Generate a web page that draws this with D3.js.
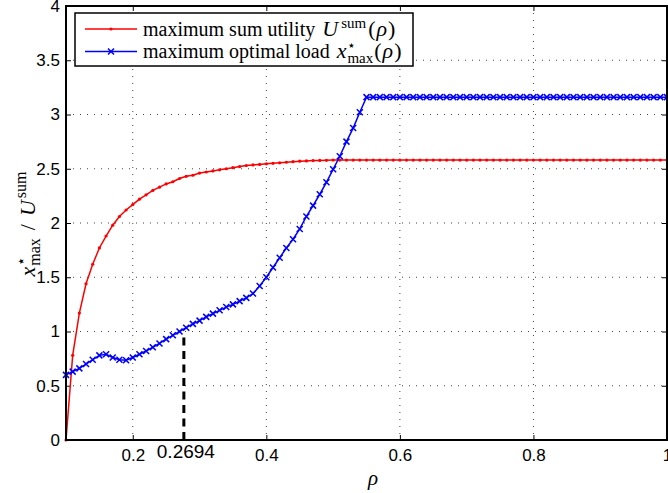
<!DOCTYPE html>
<html>
<head>
<meta charset="utf-8">
<script src="https://cdn.jsdelivr.net/npm/d3@7"></script>
<style>
  body { margin: 0; background: #fff; }
  svg { display: block; }
</style>
</head>
<body>
<svg></svg>
<script>
let rho = [
    0.10, 0.11, 0.12, 0.13, 0.14, 0.15, 0.16, 0.17, 0.18, 0.19,
    0.20, 0.21, 0.22, 0.23, 0.24, 0.25, 0.26, 0.27, 0.28, 0.29,
    0.30, 0.31, 0.32, 0.33, 0.34, 0.35, 0.36, 0.37, 0.38, 0.39,
    0.40, 0.41, 0.42, 0.43, 0.44, 0.45, 0.46, 0.47, 0.48, 0.49,
    0.50, 0.51, 0.52, 0.53, 0.54, 0.55, 0.56, 0.57, 0.58, 0.59,
    0.60, 0.61, 0.62, 0.63, 0.64, 0.65, 0.66, 0.67, 0.68, 0.69,
    0.70, 0.71, 0.72, 0.73, 0.74, 0.75, 0.76, 0.77, 0.78, 0.79,
    0.80, 0.81, 0.82, 0.83, 0.84, 0.85, 0.86, 0.87, 0.88, 0.89,
    0.90, 0.91, 0.92, 0.93, 0.94, 0.95, 0.96, 0.97, 0.98, 0.99,
    1.00
]

// maximum sum utility U^sum(rho)
let uSum = [
    0.00, 0.78, 1.17, 1.44, 1.62, 1.77, 1.88, 1.98, 2.06, 2.12,
    2.17, 2.22, 2.26, 2.30, 2.33, 2.36, 2.38, 2.41, 2.43, 2.44,
    2.46, 2.47, 2.48, 2.49, 2.50, 2.51, 2.52, 2.53, 2.535, 2.54,
    2.545, 2.55, 2.555, 2.56, 2.565, 2.57, 2.572, 2.575, 2.577, 2.578,
    2.58, 2.58, 2.58, 2.58, 2.58, 2.58, 2.58, 2.58, 2.58, 2.58,
    2.58, 2.58, 2.58, 2.58, 2.58, 2.58, 2.58, 2.58, 2.58, 2.58,
    2.58, 2.58, 2.58, 2.58, 2.58, 2.58, 2.58, 2.58, 2.58, 2.58,
    2.58, 2.58, 2.58, 2.58, 2.58, 2.58, 2.58, 2.58, 2.58, 2.58,
    2.58, 2.58, 2.58, 2.58, 2.58, 2.58, 2.58, 2.58, 2.58, 2.58,
    2.58
]

// maximum optimal load x*_max(rho)
let xMax = [
    0.60, 0.63, 0.66, 0.70, 0.74, 0.78, 0.79, 0.76, 0.74, 0.735,
    0.76, 0.79, 0.82, 0.855, 0.89, 0.93, 0.965, 1.00, 1.035, 1.07,
    1.10, 1.135, 1.165, 1.195, 1.225, 1.25, 1.28, 1.31, 1.35, 1.42,
    1.50, 1.59, 1.68, 1.77, 1.85, 1.945, 2.06, 2.16, 2.265, 2.375,
    2.495, 2.615, 2.75, 2.875, 3.02, 3.16, 3.16, 3.16, 3.16, 3.16,
    3.16, 3.16, 3.16, 3.16, 3.16, 3.16, 3.16, 3.16, 3.16, 3.16,
    3.16, 3.16, 3.16, 3.16, 3.16, 3.16, 3.16, 3.16, 3.16, 3.16,
    3.16, 3.16, 3.16, 3.16, 3.16, 3.16, 3.16, 3.16, 3.16, 3.16,
    3.16, 3.16, 3.16, 3.16, 3.16, 3.16, 3.16, 3.16, 3.16, 3.16,
    3.16
]

let xTicks = [0.2, 0.4, 0.6, 0.8, 1]
let yTicks = [0, 0.5, 1, 1.5, 2, 2.5, 3, 3.5, 4]

// dashed marker line and its label
let markX = 0.2765
let markTop = 0.99
let markLabel = "0.2694"

var W = 668, H = 493
var svg = d3.select("svg")
    .attr("width", W)
    .attr("height", H)

var plotL = 66, plotR = 667, plotT = 6, plotB = 440

let scX = d3.scaleLinear().domain([0.1, 1]).range([plotL, plotR])
let scY = d3.scaleLinear().domain([0, 4]).range([plotB, plotT])

var tickFont = "'Liberation Sans', Arial, sans-serif"
var mathFont = "'Liberation Serif', 'Times New Roman', serif"

// dotted grid
var grid = svg.append("g")
grid.selectAll("line.gx")
    .data(xTicks.filter(d => d < 1)).enter().append("line")
    .attr("x1", d => scX(d)).attr("x2", d => scX(d))
    .attr("y1", plotT).attr("y2", plotB)
grid.selectAll("line.gy")
    .data(yTicks.filter(d => d > 0 && d < 4)).enter().append("line")
    .attr("x1", plotL).attr("x2", plotR)
    .attr("y1", d => scY(d)).attr("y2", d => scY(d))
grid.selectAll("line")
    .attr("stroke", "#444")
    .attr("stroke-width", 1)
    .attr("stroke-dasharray", "1,6")

// axes (inward ticks like matlab)
let xAxis = d3.axisBottom(scX).tickValues(xTicks)
    .tickFormat(d => d3.format("~g")(d))
    .tickSizeInner(-5).tickSizeOuter(0).tickPadding(9)
let yAxis = d3.axisLeft(scY).tickValues(yTicks)
    .tickFormat(d => d3.format("~g")(d))
    .tickSizeInner(-5).tickSizeOuter(0).tickPadding(6)

svg.append("g")
    .attr("transform", `translate(0, ${plotB})`)
    .call(xAxis)
svg.append("g")
    .attr("transform", `translate(${plotL}, 0)`)
    .call(yAxis)
svg.append("g")
    .attr("transform", `translate(0, ${plotT})`)
    .call(d3.axisTop(scX).tickValues(xTicks).tickFormat("").tickSizeInner(-5).tickSizeOuter(0))
svg.append("g")
    .attr("transform", `translate(${plotR}, 0)`)
    .call(d3.axisRight(scY).tickValues(yTicks).tickFormat("").tickSizeInner(-5).tickSizeOuter(0))

svg.selectAll(".domain").remove()
svg.selectAll(".tick line").attr("stroke", "#000").attr("stroke-width", 1)
svg.selectAll(".tick text")
    .attr("font-family", tickFont)
    .attr("font-size", 17)
    .attr("fill", "#000")

// dashed marker
svg.append("line")
    .attr("x1", scX(markX)).attr("x2", scX(markX))
    .attr("y1", scY(0)).attr("y2", scY(markTop))
    .attr("stroke", "#000")
    .attr("stroke-width", 3)
    .attr("stroke-dasharray", "8,5.5")

// red curve
let valueLine = d3.line()
    .x((d, i) => scX(rho[i]))
    .y(d => scY(d))
svg.append("path")
    .datum(uSum)
    .attr("fill", "none")
    .attr("stroke", "#ff0000")
    .attr("stroke-width", 1.5)
    .attr("d", valueLine)
svg.selectAll("circle.u")
    .data(uSum).enter().append("circle")
    .attr("cx", (d, i) => scX(rho[i]))
    .attr("cy", d => scY(d))
    .attr("r", 1.6)
    .attr("fill", "#ff0000")

// blue curve
svg.append("path")
    .datum(xMax)
    .attr("fill", "none")
    .attr("stroke", "#0000ff")
    .attr("stroke-width", 1.5)
    .attr("d", valueLine)
var cross = "M-3,-3L3,3M-3,3L3,-3"
svg.selectAll("path.x")
    .data(xMax).enter().append("path")
    .attr("transform", (d, i) => `translate(${scX(rho[i])}, ${scY(d)})`)
    .attr("d", cross)
    .attr("stroke", "#0000ff")
    .attr("stroke-width", 1.5)
    .attr("fill", "none")

// axes box
svg.append("rect")
    .attr("x", plotL).attr("y", plotT)
    .attr("width", plotR - plotL).attr("height", plotB - plotT)
    .attr("fill", "none")
    .attr("stroke", "#000")
    .attr("stroke-width", 2)

// marker label
svg.append("text")
    .attr("x", scX(markX) + 2)
    .attr("y", 458)
    .attr("text-anchor", "middle")
    .attr("font-family", tickFont)
    .attr("font-size", 19)
    .text(markLabel)

// x label
svg.append("text")
    .attr("x", 373).attr("y", 485)
    .attr("text-anchor", "middle")
    .attr("font-family", mathFont)
    .attr("font-style", "italic")
    .attr("font-size", 21)
    .text("ρ")

// y label
var yl = svg.append("text")
    .attr("transform", "translate(35, 224) rotate(-90)")
    .attr("text-anchor", "middle")
    .attr("font-family", mathFont)
    .attr("font-size", 22)
yl.append("tspan").attr("font-style", "italic").text("x")
yl.append("tspan").attr("font-size", 15).attr("dx", 1).attr("dy", -9).text("⋆")
yl.append("tspan").attr("font-size", 16).attr("dx", -9).attr("dy", 14).text("max")
yl.append("tspan").attr("dy", -5).attr("dx", 8).text("/")
yl.append("tspan").attr("font-style", "italic").attr("dx", 8).text("U")
yl.append("tspan").attr("font-size", 16).attr("dx", 2).attr("dy", -9).text("sum")

// legend
var lg = svg.append("g")
lg.append("rect")
    .attr("x", 75).attr("y", 13)
    .attr("width", 338).attr("height", 53)
    .attr("fill", "#fff")
    .attr("stroke", "#000")
    .attr("stroke-width", 1.5)

var rows = [29, 51.5]
lg.append("line")
    .attr("x1", 85).attr("x2", 137).attr("y1", rows[0]).attr("y2", rows[0])
    .attr("stroke", "#ff0000").attr("stroke-width", 1.5)
lg.append("circle")
    .attr("cx", 111).attr("cy", rows[0]).attr("r", 1.6).attr("fill", "#ff0000")
lg.append("line")
    .attr("x1", 85).attr("x2", 137).attr("y1", rows[1]).attr("y2", rows[1])
    .attr("stroke", "#0000ff").attr("stroke-width", 1.5)
lg.append("path")
    .attr("transform", `translate(111, ${rows[1]})`)
    .attr("d", cross)
    .attr("stroke", "#0000ff").attr("stroke-width", 1.5)

var t1 = lg.append("text")
    .attr("x", 143).attr("y", 36)
    .attr("font-family", mathFont).attr("font-size", 20)
t1.append("tspan").text("maximum sum utility ")
t1.append("tspan").attr("font-style", "italic").attr("font-size", 22).attr("dx", 2).text("U")
t1.append("tspan").attr("font-size", 15).attr("dx", 3).attr("dy", -8).text("sum")
t1.append("tspan").attr("font-size", 22).attr("dx", 2).attr("dy", 8).text("(")
t1.append("tspan").attr("font-style", "italic").attr("font-size", 22).attr("dx", 1).text("ρ")
t1.append("tspan").attr("font-size", 22).attr("dx", 1).text(")")

var t2 = lg.append("text")
    .attr("x", 143).attr("y", 58)
    .attr("font-family", mathFont).attr("font-size", 20)
t2.append("tspan").text("maximum optimal load ")
t2.append("tspan").attr("font-style", "italic").attr("font-size", 22).attr("dx", 2).text("x")
t2.append("tspan").attr("font-size", 14).attr("dx", 1).attr("dy", -8).text("⋆")
t2.append("tspan").attr("font-size", 15).attr("dx", -9).attr("dy", 13).text("max")
t2.append("tspan").attr("font-size", 22).attr("dx", 1).attr("dy", -5).text("(")
t2.append("tspan").attr("font-style", "italic").attr("font-size", 22).attr("dx", 1).text("ρ")
t2.append("tspan").attr("font-size", 22).attr("dx", 1).text(")")
</script>
</body>
</html>
